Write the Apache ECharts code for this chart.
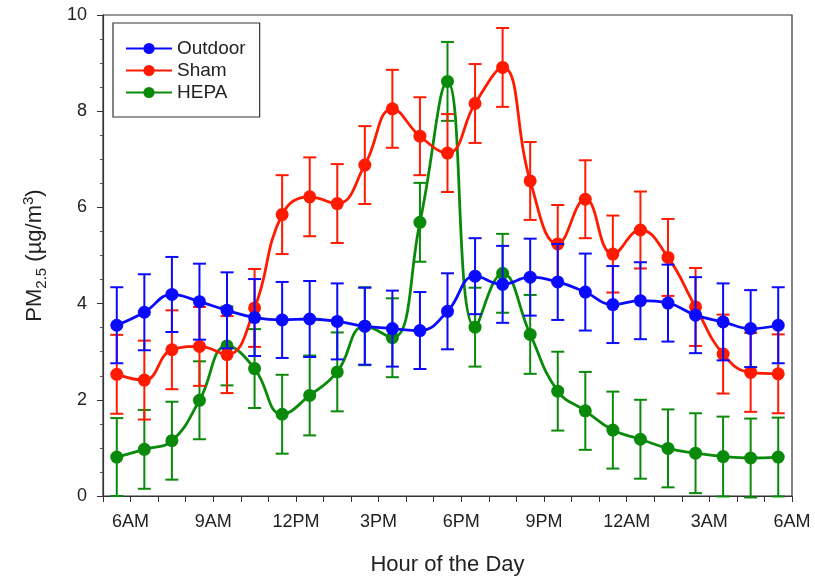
<!DOCTYPE html>
<html>
<head>
<meta charset="utf-8">
<script src="https://cdn.jsdelivr.net/npm/echarts@6/dist/echarts.min.js"></script>
<style>
  html, body { margin: 0; padding: 0; background: #ffffff; }
  #chart { width: 815px; height: 581px; }
</style>
</head>
<body>
<div id="chart"></div>
<script>
// Hour-bin midpoints (hours counted from midnight of the first day; 29.5 = 5:30AM next day)
var hourMid = [5.5, 6.5, 7.5, 8.5, 9.5, 10.5, 11.5, 12.5, 13.5, 14.5, 15.5, 16.5, 17.5,
               18.5, 19.5, 20.5, 21.5, 22.5, 23.5, 24.5, 25.5, 26.5, 27.5, 28.5, 29.5];

// Labelled ticks on the hour axis
var tickHours  = [6, 9, 12, 15, 18, 21, 24, 27, 30];
var tickLabels = ['6AM', '9AM', '12PM', '3PM', '6PM', '9PM', '12AM', '3AM', '6AM'];

// Mean PM2.5 (µg/m3) per hour and the error-bar half-widths
var outdoorMean = [3.55, 3.82, 4.19, 4.04, 3.86, 3.71, 3.66, 3.68, 3.63, 3.53, 3.48, 3.44, 3.84,
                   4.57, 4.40, 4.55, 4.45, 4.24, 3.98, 4.06, 4.01, 3.76, 3.62, 3.48, 3.55];
var outdoorErr  = [0.79, 0.79, 0.78, 0.79, 0.79, 0.80, 0.79, 0.79, 0.79, 0.80, 0.79, 0.80, 0.79,
                   0.79, 0.80, 0.80, 0.79, 0.80, 0.80, 0.80, 0.80, 0.79, 0.80, 0.80, 0.79];

var shamMean = [2.53, 2.41, 3.04, 3.11, 2.94, 3.91, 5.85, 6.22, 6.08, 6.88, 8.05, 7.48, 7.13,
                8.16, 8.91, 6.55, 5.24, 6.17, 5.03, 5.53, 4.96, 3.93, 2.95, 2.57, 2.54];
var shamErr  = [0.82, 0.82, 0.82, 0.82, 0.80, 0.81, 0.82, 0.82, 0.82, 0.81, 0.81, 0.81, 0.81,
                0.82, 0.82, 0.81, 0.81, 0.81, 0.80, 0.80, 0.80, 0.81, 0.82, 0.82, 0.82];

var hepaMean = [0.81, 0.97, 1.15, 1.99, 3.12, 2.65, 1.70, 2.09, 2.58, 3.53, 3.29, 5.69, 8.62,
                3.51, 4.63, 3.36, 2.18, 1.77, 1.37, 1.18, 0.99, 0.89, 0.82, 0.79, 0.81];
var hepaErr  = [0.81, 0.82, 0.81, 0.81, 0.82, 0.82, 0.82, 0.83, 0.82, 0.81, 0.82, 0.82, 0.82,
                0.82, 0.82, 0.82, 0.82, 0.81, 0.80, 0.82, 0.81, 0.83, 0.83, 0.82, 0.82];

var COLORS = { outdoor: '#0a0aff', sham: '#ff1a00', hepa: '#0a8a0a' };
var FONT = 'Liberation Sans, Arial, sans-serif';

function pairs(means) {
  return means.map(function (v, i) { return [hourMid[i], v]; });
}
function triples(means, errs) {
  return means.map(function (v, i) { return [hourMid[i], v, errs[i]]; });
}

// Vertical error bar with caps, drawn in data coordinates
function errorBarRenderer(color) {
  return function (params, api) {
    var x = api.value(0), y = api.value(1), e = api.value(2);
    var top = api.coord([x, y + e]);
    var bot = api.coord([x, y - e]);
    var half = 6.5;
    var style = { stroke: color, lineWidth: 2 };
    return {
      type: 'group',
      children: [
        { type: 'line', shape: { x1: top[0], y1: top[1], x2: bot[0], y2: bot[1] }, style: style },
        { type: 'line', shape: { x1: top[0] - half, y1: top[1], x2: top[0] + half, y2: top[1] }, style: style },
        { type: 'line', shape: { x1: bot[0] - half, y1: bot[1], x2: bot[0] + half, y2: bot[1] }, style: style }
      ]
    };
  };
}

function lineSeries(name, means, color, z) {
  return {
    name: name,
    type: 'line',
    data: pairs(means),
    smooth: 0.45,
    symbol: 'circle',
    symbolSize: 13,
    z: z + 1,
    lineStyle: { color: color, width: 2.8 },
    itemStyle: { color: color },
    emphasis: { disabled: true },
    animation: false
  };
}

function errSeries(means, errs, color, z) {
  return {
    type: 'custom',
    data: triples(means, errs),
    renderItem: errorBarRenderer(color),
    encode: { x: 0, y: [1, 2] },
    z: z,
    silent: true,
    animation: false
  };
}

var chart = echarts.init(document.getElementById('chart'), null, { renderer: 'canvas' });

chart.setOption({
  backgroundColor: '#ffffff',
  animation: false,
  textStyle: { fontFamily: FONT },
  grid: {
    left: 103, right: 23, top: 15, bottom: 83,
    show: true, borderColor: '#333', borderWidth: 1.2, backgroundColor: '#ffffff'
  },
  legend: {
    left: 113, top: 23,
    orient: 'vertical',
    data: ['Outdoor', 'Sham', 'HEPA'],
    itemWidth: 46, itemHeight: 14, itemGap: 3,
    padding: [16, 14, 15, 12],
    borderColor: '#333', borderWidth: 1.2,
    backgroundColor: '#ffffff',
    textStyle: { fontSize: 19, color: '#222', fontFamily: FONT }
  },
  xAxis: {
    type: 'value',
    min: 5, max: 30, interval: 1,
    name: 'Hour of the Day',
    nameLocation: 'middle',
    nameGap: 58,
    nameTextStyle: { fontSize: 22, color: '#222', fontFamily: FONT },
    axisLine: { show: true, lineStyle: { color: '#333', width: 1.2 } },
    axisTick: { show: true, inside: false, length: 6, lineStyle: { color: '#333' } },
    axisLabel: {
      margin: 17, fontSize: 18, color: '#222', fontFamily: FONT,
      formatter: function (v) {
        var k = tickHours.indexOf(Math.round(v));
        return k >= 0 ? tickLabels[k] : '';
      }
    },
    splitLine: { show: false }
  },
  yAxis: {
    type: 'value',
    min: 0, max: 10, interval: 2,
    name: '{n|PM}{sub|2.5}{n| (µg/m}{sup|3}{n|)}',
    nameLocation: 'middle',
    nameRotate: 90,
    nameGap: 54,
    nameTextStyle: {
      color: '#222', fontFamily: FONT,
      rich: {
        n:   { fontSize: 22, color: '#222', fontFamily: FONT, verticalAlign: 'middle', lineHeight: 28 },
        sub: { fontSize: 15, color: '#222', fontFamily: FONT, verticalAlign: 'bottom', lineHeight: 28, padding: [10, 0, 0, 0] },
        sup: { fontSize: 15, color: '#222', fontFamily: FONT, verticalAlign: 'top', lineHeight: 28, padding: [0, 0, 10, 0] }
      }
    },
    axisLine: { show: true, lineStyle: { color: '#333', width: 1.2 } },
    axisTick: { show: true, inside: false, length: 6, lineStyle: { color: '#333' } },
    minorTick: { show: true, splitNumber: 4, length: 3, lineStyle: { color: '#555' } },
    axisLabel: { margin: 16, fontSize: 18, color: '#222', fontFamily: FONT },
    splitLine: { show: false },
    minorSplitLine: { show: false }
  },
  series: [
    errSeries(hepaMean, hepaErr, COLORS.hepa, 2),
    lineSeries('HEPA', hepaMean, COLORS.hepa, 2),
    errSeries(shamMean, shamErr, COLORS.sham, 4),
    lineSeries('Sham', shamMean, COLORS.sham, 4),
    errSeries(outdoorMean, outdoorErr, COLORS.outdoor, 6),
    lineSeries('Outdoor', outdoorMean, COLORS.outdoor, 6)
  ]
});
</script>
</body>
</html>
